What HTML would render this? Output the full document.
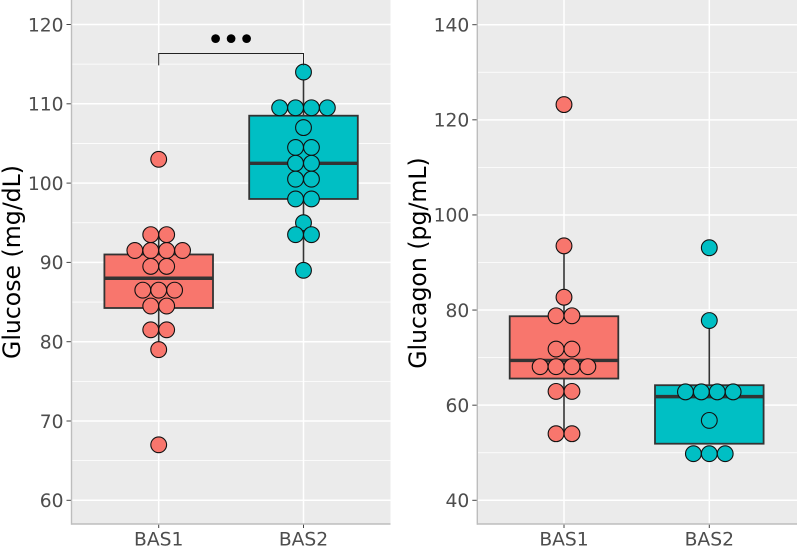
<!DOCTYPE html>
<html>
<head>
<meta charset="utf-8">
<style>
html,body{margin:0;padding:0;background:#fff;width:797px;height:547px;overflow:hidden}
svg{display:block}
text{font-family:"DejaVu Sans","Liberation Sans",sans-serif}
</style>
</head>
<body>
<svg id="chart" width="797" height="547" viewBox="0 0 797 547" xmlns="http://www.w3.org/2000/svg"></svg>
<script>
const categories = ['BAS1', 'BAS2'];
const glucoseTicks = [60, 70, 80, 90, 100, 110, 120];
const glucagonTicks = [40, 60, 80, 100, 120, 140];
const glucoseBas1 = [103, 93.5, 93.5, 91.5, 91.5, 91.5, 91.5, 89.5, 89.5, 86.5, 86.5, 86.5, 84.5, 84.5, 81.5, 81.5, 79, 67];
const glucoseBas2 = [114, 109.5, 109.5, 109.5, 109.5, 107, 104.5, 104.5, 102.5, 102.5, 100.5, 100.5, 98, 98, 95, 93.5, 93.5, 89];
const glucagonBas1 = [123.2, 93.5, 82.7, 78.8, 78.8, 71.8, 71.8, 68.1, 68.1, 68.1, 68.1, 62.9, 62.9, 54, 54];
const glucagonBas2 = [93.1, 77.8, 62.8, 62.8, 62.8, 62.8, 56.8, 49.8, 49.8, 49.8];
// five-number summaries: whisker low, q1, median, q3, whisker high
const glucoseBas1Box = [79, 84.25, 88, 91, 93.5];
const glucoseBas2Box = [89, 98, 102.5, 108.5, 114];
const glucagonBas1Box = [54, 65.6, 69.4, 78.7, 93.5];
const glucagonBas2Box = [51.9, 51.9, 61.8, 64.2, 77.8];
const glucoseBracket = [116.35, 114.85];
const significanceLabel = '•••';

const svg = document.getElementById('chart');
const NS = 'http://www.w3.org/2000/svg';
function make(tag, attrs, parent) {
  const el = document.createElementNS(NS, tag);
  for (const k in attrs) el.setAttribute(k, attrs[k]);
  (parent || svg).appendChild(el);
  return el;
}
const COLORS = ['#F8766D', '#00BFC4'];
const DOT_R = 7.9;
const DOT_STEP = 15.9;

function drawPanel(cfg) {
  const g = make('g', {});
  
  
  const y = v => cfg.yAt0 + (v - cfg.v0) * cfg.pxPerUnit;
  const x = i => cfg.cx[i];

  const bg = make('rect', {x: cfg.left, y: 0, width: cfg.right - cfg.left, height: cfg.bottom, fill: '#EBEBEB'}, g);
  
  

  const step = cfg.ticks[1] - cfg.ticks[0];
  const first = cfg.ticks[0];
  for (let i = -1; i < cfg.ticks.length; i++) {
    const mv = first + step * (i + 0.5);
    const my = y(mv);
    if (my < 0 || my > cfg.bottom) continue;
    const ml = make('line', {x1: cfg.left, x2: cfg.right, y1: my, y2: my, stroke: '#fff', 'stroke-width': 0.8}, g);
    
    
  }
  cfg.ticks.forEach(t => {
    const gl = make('line', {x1: cfg.left, x2: cfg.right, y1: y(t), y2: y(t), stroke: '#fff', 'stroke-width': 1.5}, g);
    
    
    const tk = make('line', {x1: cfg.left - 5, x2: cfg.left, y1: y(t), y2: y(t), stroke: '#444', 'stroke-width': 1}, g);
    
    
    const lb = make('text', {x: cfg.left - 8, y: y(t) + 6.8, 'text-anchor': 'end', 'font-size': 18.7, fill: '#4D4D4D'}, g);
    lb.textContent = t;
    
    
  });
  categories.forEach((c, i) => {
    const gl = make('line', {x1: x(i), x2: x(i), y1: 0, y2: cfg.bottom, stroke: '#fff', 'stroke-width': 1.5}, g);
    
    
    const tk = make('line', {x1: x(i), x2: x(i), y1: cfg.bottom, y2: cfg.bottom + 4, stroke: '#444', 'stroke-width': 1}, g);
    
    
    const lb = make('text', {x: x(i), y: 545.5, 'text-anchor': 'middle', 'font-size': 18.7, fill: '#4D4D4D'}, g);
    lb.textContent = c;
    
    
  });

  const axL = make('line', {x1: cfg.left, x2: cfg.left, y1: 0, y2: cfg.bottom + 0.7, stroke: '#BDBDBD', 'stroke-width': 1.4}, g);
  
  
  const axB = make('line', {x1: cfg.left, x2: cfg.right, y1: cfg.bottom, y2: cfg.bottom, stroke: '#BDBDBD', 'stroke-width': 1.4}, g);
  
  

  const title = make('text', {transform: 'translate(' + cfg.titleX + ',' + cfg.titleY + ') rotate(-90)', 'text-anchor': 'middle', 'font-size': 23.6, fill: '#000'}, g);
  title.textContent = cfg.title;
  
  

  cfg.boxes.forEach((b, i) => {
    const bw = 54.3;
    const wh = make('line', {x1: x(i), x2: x(i), y1: y(b[0]), y2: y(b[4]), stroke: '#333', 'stroke-width': 1.6}, g);
    
    
    const bx = make('rect', {x: x(i) - bw, width: bw * 2, y: y(b[3]), height: y(b[1]) - y(b[3]), fill: COLORS[i], stroke: '#333', 'stroke-width': 1.8}, g);
    
    
    const md = make('line', {x1: x(i) - bw, x2: x(i) + bw, y1: y(b[2]), y2: y(b[2]), stroke: '#333', 'stroke-width': 3.4}, g);
    
    
  });

  cfg.series.forEach((vals, i) => {
    const counts = {};
    vals.forEach(v => { counts[v] = (counts[v] || 0) + 1; });
    const seen = {};
    vals.forEach(v => {
      const k = seen[v] || 0;
      seen[v] = k + 1;
      const off = (k - (counts[v] - 1) / 2) * DOT_STEP;
      const dot = make('circle', {cx: x(i) + off, cy: y(v), r: DOT_R, fill: COLORS[i], stroke: '#111', 'stroke-width': 1.1}, g);
      
      
    });
  });

  if (cfg.bracket) {
    const top = y(cfg.bracket[0]), tip = y(cfg.bracket[1]);
    const br = make('path', {d: 'M' + x(0) + ' ' + tip + 'V' + top + 'H' + x(1) + 'V' + tip, fill: 'none', stroke: '#222', 'stroke-width': 1}, g);
    
    
    const sig = make('text', {x: (x(0) + x(1)) / 2 - 1.1, y: 49.8, 'text-anchor': 'middle', 'font-size': 30, 'letter-spacing': -2.2, fill: '#000'}, g);
    sig.textContent = significanceLabel;
    
    
  }
}

drawPanel({
  name: 'glucose-panel', title: 'Glucose (mg/dL)', titleX: 20, titleY: 262,
  left: 71.5, right: 390.5, bottom: 524, cx: [158.7, 303.5],
  v0: 60, yAt0: 500.3, pxPerUnit: -7.93, ticks: glucoseTicks,
  boxes: [glucoseBas1Box, glucoseBas2Box], series: [glucoseBas1, glucoseBas2], bracket: glucoseBracket
});
drawPanel({
  name: 'glucagon-panel', title: 'Glucagon (pg/mL)', titleX: 426, titleY: 263,
  left: 477.3, right: 797, bottom: 524, cx: [564, 709.3],
  v0: 40, yAt0: 500.3, pxPerUnit: -4.756, ticks: glucagonTicks,
  boxes: [glucagonBas1Box, glucagonBas2Box], series: [glucagonBas1, glucagonBas2], bracket: null
});
</script>
</body>
</html>
